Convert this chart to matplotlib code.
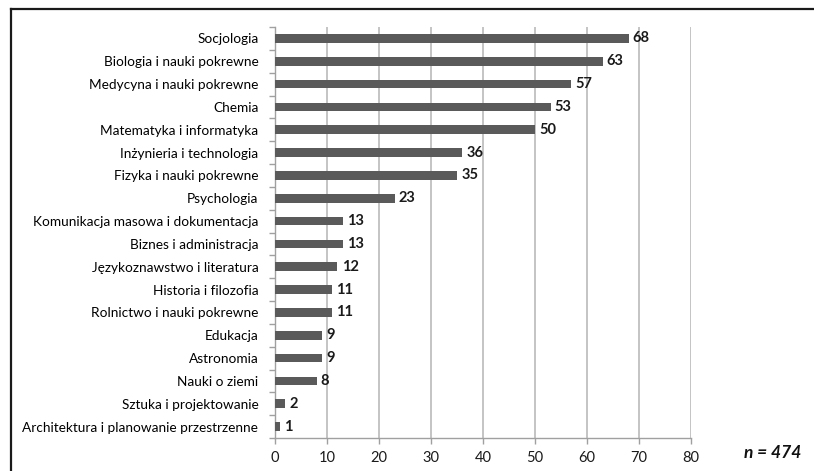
"""Horizontal bar chart: fields of study (n = 474)
"""

import matplotlib
matplotlib.use('Agg')
import matplotlib.pyplot as plt
from matplotlib.lines import Line2D
import numpy as np

# data
categories = [
    'Socjologia',
    'Biologia i nauki pokrewne',
    'Medycyna i nauki pokrewne',
    'Chemia',
    'Matematyka i informatyka',
    'Inżynieria i technologia',
    'Fizyka i nauki pokrewne',
    'Psychologia',
    'Komunikacja masowa i dokumentacja',
    'Biznes i administracja',
    'Językoznawstwo i literatura',
    'Historia i filozofia',
    'Rolnictwo i nauki pokrewne',
    'Edukacja',
    'Astronomia',
    'Nauki o ziemi',
    'Sztuka i projektowanie',
    'Architektura i planowanie przestrzenne',
]
values = [68, 63, 57, 53, 50, 36, 35, 23, 13, 13, 12, 11, 11, 9, 9, 8, 2, 1]
x_ticks = [0, 10, 20, 30, 40, 50, 60, 70, 80]
n_label = 'n = 474'

# style
plt.rcParams['font.family'] = ['Lato', 'DejaVu Sans']
bar_color = '#5a5a5a'
grid_color = '#c4c4c4'
axis_color = '#a0a0a0'

fig = plt.figure(figsize=(8.14, 4.71), dpi=100)
ax = fig.add_axes([275/814, 1 - 438/471, (691 - 275)/814, (438 - 27)/471])

pos = np.arange(len(categories))
ax.barh(pos, values, height=0.38, color=bar_color, zorder=3)

for p, v in zip(pos, values):
    ax.text(v + 0.8, p, str(v), va='center', ha='left', fontsize=10.5,
            fontweight='bold', color='#1a1a1a', zorder=4)

ax.set_xlim(0, 80)
ax.set_ylim(len(categories) - 0.5, -0.5)

ax.set_xticks(x_ticks)
ax.set_xticklabels([str(t) for t in x_ticks], fontsize=10.5, color='#1a1a1a')
ax.set_yticks(pos)
ax.set_yticklabels(categories, fontsize=9.8, color='#000000')
ax.set_yticks(np.arange(-0.5, len(categories) + 0.5, 1), minor=True)

ax.tick_params(axis='y', which='major', length=0, pad=12)
ax.tick_params(axis='y', which='minor', length=4, color=axis_color, width=1)
ax.tick_params(axis='x', which='major', length=4, color=axis_color, width=1, pad=5)

ax.xaxis.grid(True, color=grid_color, linewidth=1.4, zorder=0)
ax.set_axisbelow(True)

for side in ['top', 'right']:
    ax.spines[side].set_visible(False)
for side in ['left', 'bottom']:
    ax.spines[side].set_color(axis_color)
    ax.spines[side].set_linewidth(1)

# n label
fig.text(801/814, 1 - 453/471, n_label, ha='right', va='center',
         fontsize=12.5, fontstyle='italic', fontweight='bold', color='#111111')

# outer frame (top and left)
fig.add_artist(Line2D([11/814, 1], [1 - 9/471, 1 - 9/471], transform=fig.transFigure,
                      color='#1a1a1a', linewidth=1.6))
fig.add_artist(Line2D([11/814, 11/814], [0, 1 - 9/471], transform=fig.transFigure,
                      color='#1a1a1a', linewidth=1.6))

fig.savefig('out.png', dpi=100)
